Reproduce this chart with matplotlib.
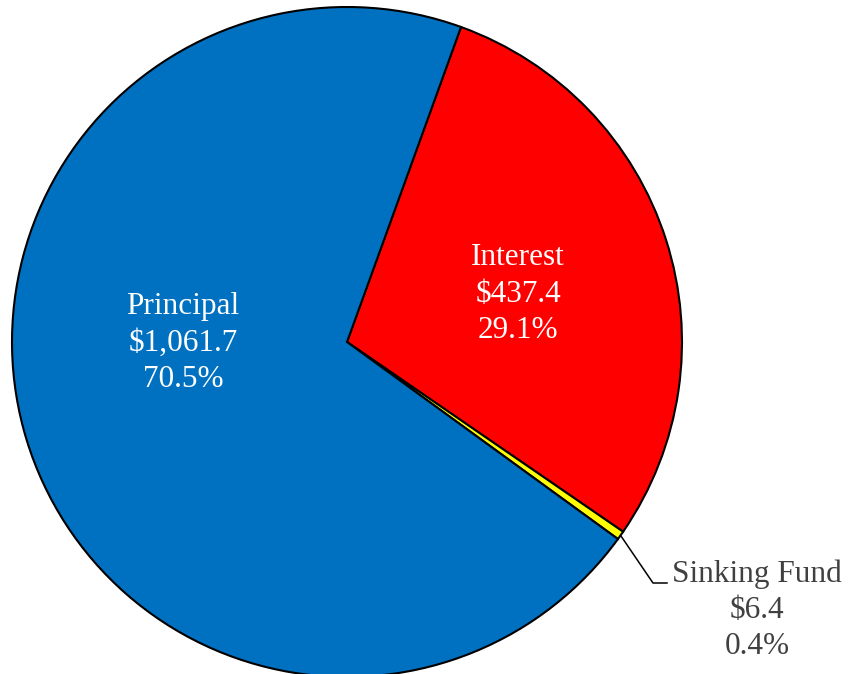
import matplotlib
matplotlib.use("Agg")
import matplotlib.pyplot as plt
import numpy as np

categories = ["Interest", "Sinking Fund", "Principal"]
values = [437.4, 6.4, 1061.7]
percents = ["29.1%", "0.4%", "70.5%"]
amounts = ["$437.4", "$6.4", "$1,061.7"]
colors = ["#FF0000", "#FFFF00", "#0070C0"]

plt.rcParams['font.family'] = ['Liberation Serif', 'DejaVu Serif']

fig = plt.figure(figsize=(8.48, 6.74), dpi=100)
ax = fig.add_axes([0, 0, 1, 1])
R = 335.0
cx, cy = 347.0, 342.0

start = 70.1
wedges, _ = ax.pie(values, colors=colors, startangle=start, counterclock=False,
                   radius=1.0, center=(0, 0),
                   wedgeprops=dict(edgecolor='black', linewidth=1.5))
ax.set_xlim(-cx / R, (848 - cx) / R)
ax.set_ylim((cy - 674) / R, cy / R)
ax.set_aspect('equal')
ax.axis('off')

fs = 22.5
ls = 1.32
# Interest label
ax.text((518 - cx) / R, (cy - 294) / R, f"{categories[0]}\n{amounts[0]}\n{percents[0]}",
        ha='center', va='center', color='white', fontsize=fs, linespacing=ls)
# Principal label
ax.text((183 - cx) / R, (cy - 343) / R, f"{categories[2]}\n{amounts[2]}\n{percents[2]}",
        ha='center', va='center', color='white', fontsize=fs, linespacing=ls)

# Sinking fund label with leader line
total = sum(values)
mid = start - (values[0] + values[1] / 2) / total * 360
p0 = (np.cos(np.radians(mid)), np.sin(np.radians(mid)))
p1 = ((653 - cx) / R, (cy - 583) / R)
p2 = ((667 - cx) / R, (cy - 583) / R)
ax.plot([p0[0], p1[0], p2[0]], [p0[1], p1[1], p2[1]], color='black', lw=1.1)
ax.text((757 - cx) / R, (cy - 610) / R, f"{categories[1]}\n{amounts[1]}\n{percents[1]}",
        ha='center', va='center', color='#404040', fontsize=fs, linespacing=ls)

fig.savefig("out.png", dpi=100)
